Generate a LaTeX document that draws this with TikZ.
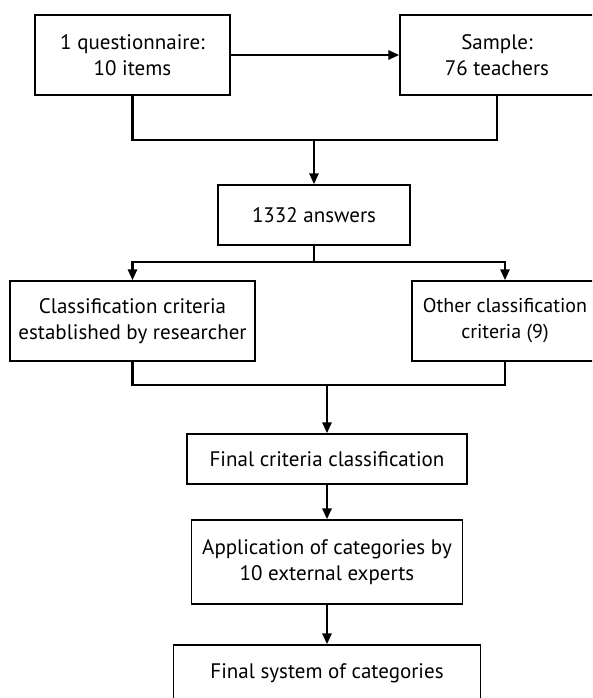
\documentclass[tikz,border=0pt]{standalone}
\usepackage{fontspec}
\setmainfont{PT Sans}
\usepackage{tikz}
\usetikzlibrary{arrows.meta,positioning}

\begin{document}
\begin{tikzpicture}[x=1pt,y=-1pt,
    box/.style={draw,line width=1.3pt,inner sep=0pt,align=center,
                font=\fontsize{21}{26}\selectfont},
    link/.style={line width=2.6pt},
    flow/.style={link,-{Triangle[length=11pt,width=9pt]}}]
  \path[use as bounding box] (0,0) rectangle (592,698);
  \clip (0,0) rectangle (592,698);
  \node[box,minimum width=195pt,minimum height=80pt] (quest) at (132.5,55) {1 questionnaire:\\10 items};
  \node[box,minimum width=194pt,minimum height=80pt] (sample) at (497,55) {Sample:\\76 teachers};
  \node[box,minimum width=192pt,minimum height=60pt] (answ) at (314,215) {1332 answers};
  \node[box,minimum width=245pt,minimum height=80pt] (crit) at (132.5,321) {Classification criteria\\established by researcher};
  \node[box,minimum width=186pt,minimum height=80pt,
        font=\fontsize{20}{26}\selectfont] (other) at (505,321) {Other classification\\criteria (9)};
  \node[box,minimum width=280pt,minimum height=50pt] (fincrit) at (327,459) {Final criteria classification};
  \node[box,minimum width=271pt,minimum height=84pt] (appl) at (327,562) {Application of categories by\\10 external experts};
  \node[box,minimum width=307pt,minimum height=56pt] (finsys) at (327,673) {Final system of categories};
  \coordinate (j1) at (314,140);
  \coordinate (j2) at (314,262);
  \coordinate (j3) at (327,385);
  \draw[flow] (quest) -- (sample);
  \draw[link] (quest.south) |- (j1) -| (sample.south);
  \draw[flow] (j1) -- (answ);
  \draw[link] (answ.south) -- (j2);
  \draw[flow] (j2) -| (crit.north);
  \draw[flow] (j2) -| (other.north);
  \draw[link] (crit.south) |- (j3) -| (other.south);
  \draw[flow] (j3) -- (fincrit);
  \foreach \a/\b in {fincrit/appl,appl/finsys} \draw[flow] (\a) -- (\b);
\end{tikzpicture}
\end{document}
